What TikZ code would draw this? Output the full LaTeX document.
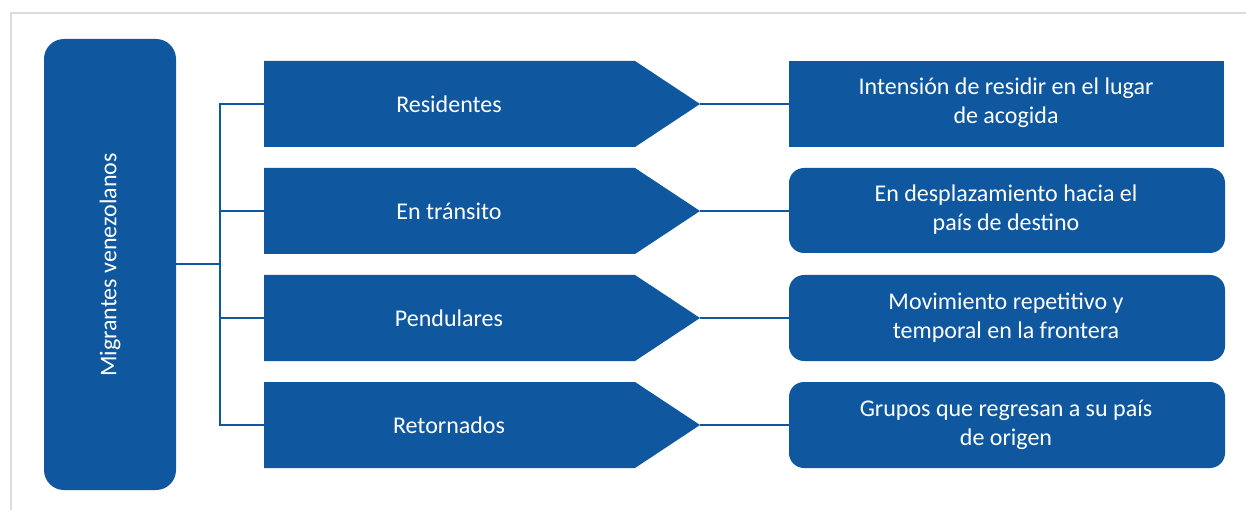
\documentclass[tikz,border=0pt]{standalone}
\usepackage{fontspec}
\setmainfont{Carlito}
\definecolor{blu}{HTML}{0F579E}
\definecolor{frm}{HTML}{DCDCDC}
\begin{document}
\begin{tikzpicture}[x=1pt,y=-1pt,
  txt/.style={text=white,font=\fontsize{24}{29}\selectfont,align=center},
  conn/.style={draw=blu,line width=2.6pt},
  arrowshape/.style={fill=blu}]
\useasboundingbox (0,0) rectangle (1246,510);
\fill[white] (0,0) rectangle (1246,510);
\draw[frm,line width=2.2pt] (11,510) -- (11,13) -- (1246,13);
% left box
\fill[blu,rounded corners=20pt] (44,39) rectangle (176,490);
\node[txt,rotate=90] (mig) at (110,265) {Migrantes venezolanos};
\coordinate (mr) at (176,264);
\coordinate (bus) at (220,264);
% arrows
\foreach \n/\t/\yc in {a/Residentes/104, b/En tránsito/211, c/Pendulares/318, d/Retornados/425}{
  \fill[blu] (264,\yc-43) -- (635,\yc-43) -- (700,\yc) -- (635,\yc+43) -- (264,\yc+43) -- cycle;
  \coordinate (\n L) at (264,\yc);
  \coordinate (\n T) at (700,\yc);
  \node[txt] (\n) at (449,\yc) {\t};
}
% right boxes
\fill[blu] (789,61) rectangle (1224,147);
\fill[blu,rounded corners=15pt] (789,168) rectangle (1225,253);
\fill[blu,rounded corners=15pt] (789,275) rectangle (1225,361);
\fill[blu,rounded corners=15pt] (789,382) rectangle (1225,468);
\node[txt] (ra) at (1006,103) {Intensión de residir en el lugar\\de acogida};
\node[txt] (rb) at (1006,210) {En desplazamiento hacia el\\país de destino};
\node[txt] (rc) at (1006,318) {Movimiento repetitivo y\\temporal en la frontera};
\node[txt] (rd) at (1006,425) {Grupos que regresan a su país\\de origen};
\coordinate (raL) at (789,104);
\coordinate (rbL) at (789,211);
\coordinate (rcL) at (789,318);
\coordinate (rdL) at (789,425);
% connectors
\draw[conn] (mr) -- (bus);
\draw[conn] (aL) -| (bus) |- (dL);
\draw[conn] (bus |- bL) -- (bL);
\draw[conn] (bus |- cL) -- (cL);
\draw[conn] (aT) -- (raL);
\draw[conn] (bT) -- (rbL);
\draw[conn] (cT) -- (rcL);
\draw[conn] (dT) -- (rdL);
\end{tikzpicture}
\end{document}
